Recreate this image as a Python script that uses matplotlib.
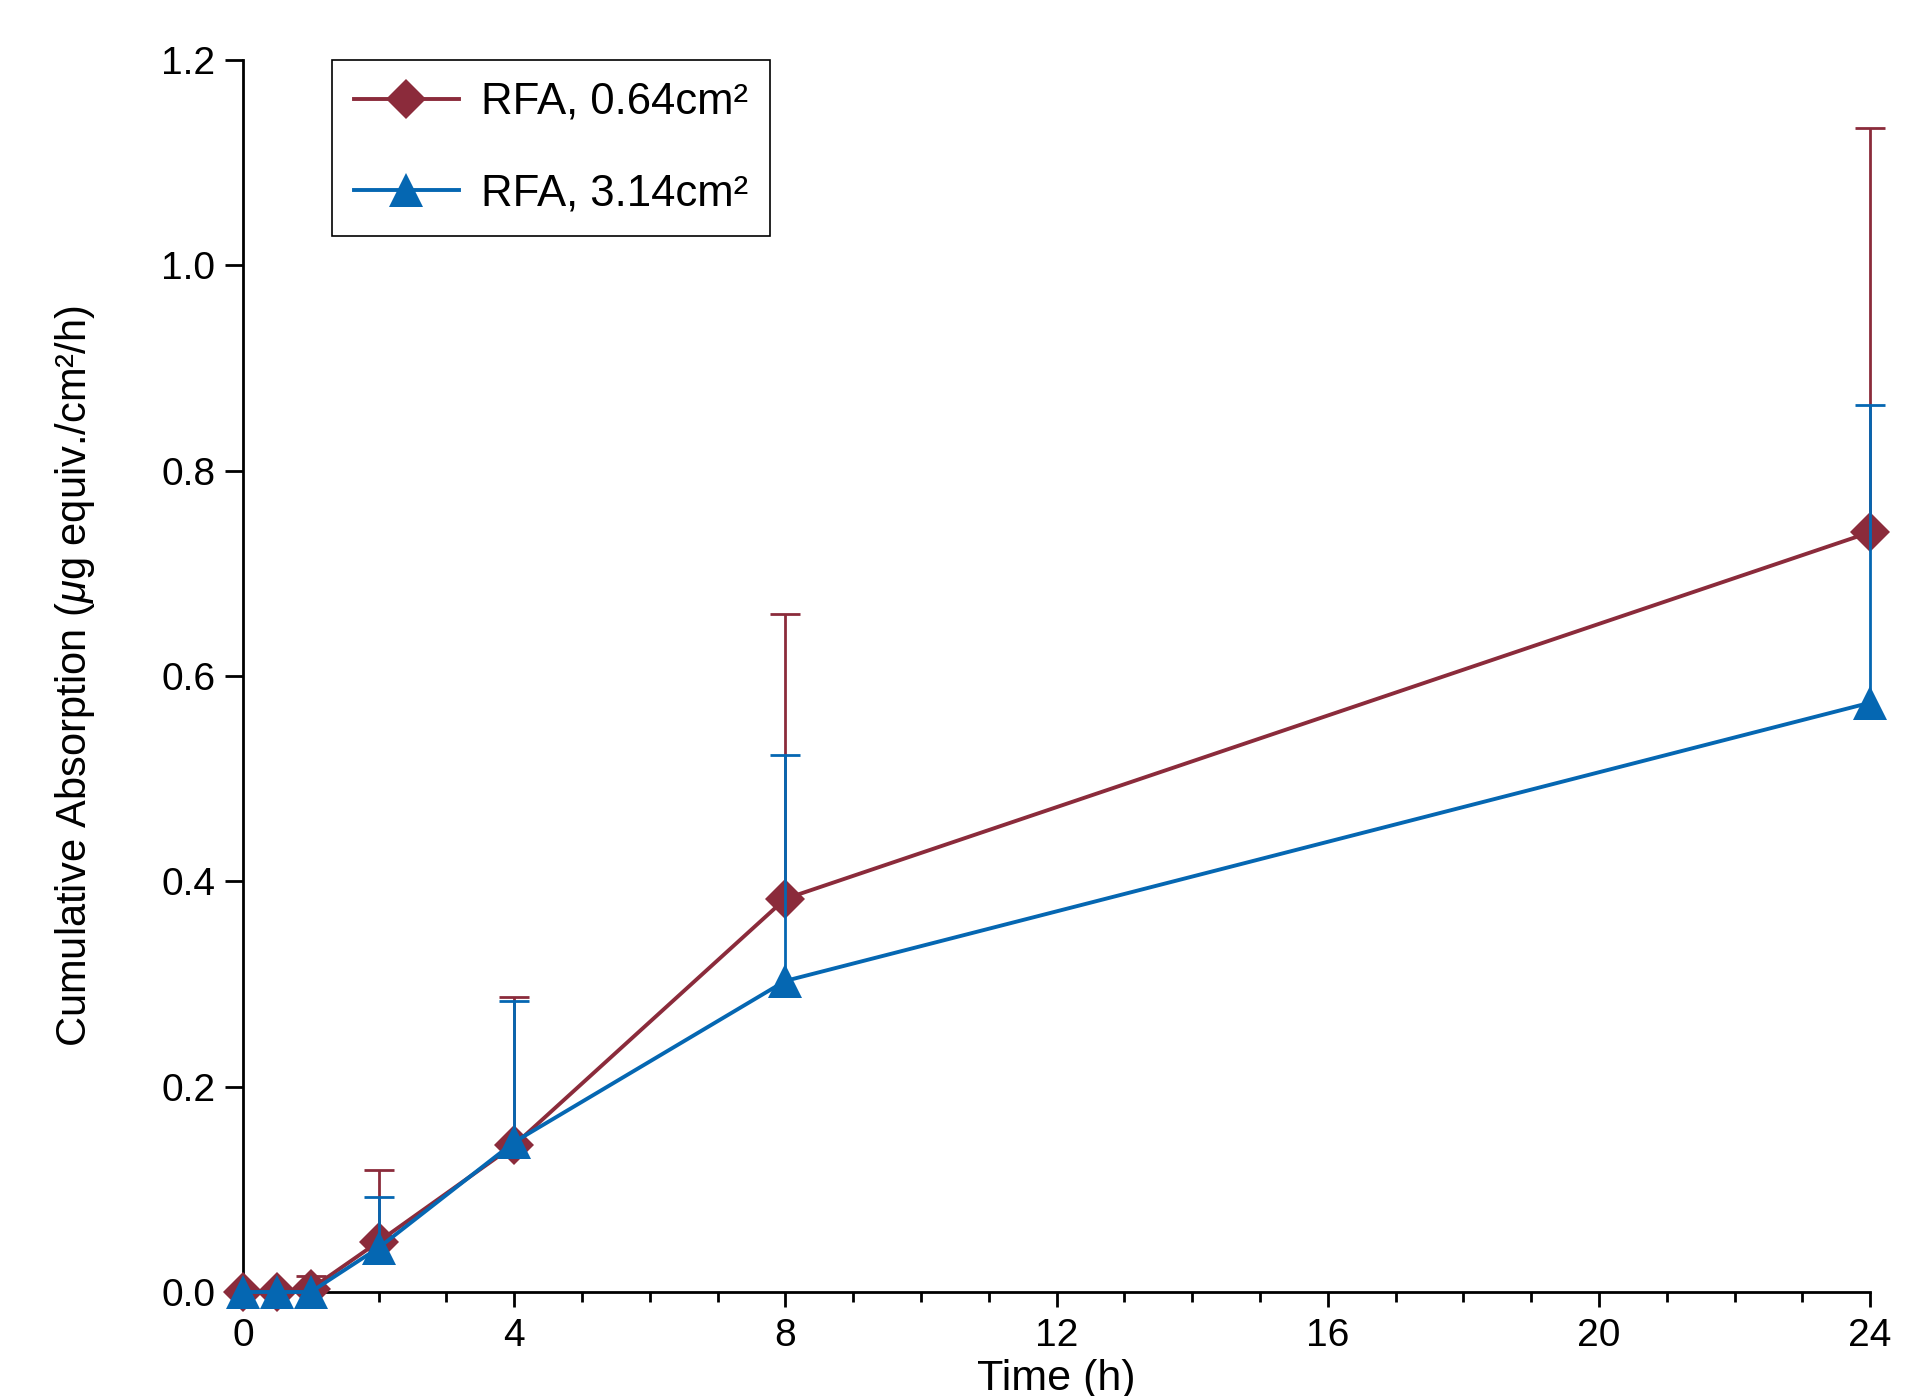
import matplotlib
matplotlib.use("Agg")
import matplotlib.pyplot as plt
import numpy as np

# sampling times (h)
time_h = [0, 0.5, 1, 2, 4, 8, 24]

# RFA, 0.64 cm2
small_mean = [0.0, 0.0, 0.003, 0.049, 0.143, 0.383, 0.740]
small_upper = [0.0, 0.0, 0.016, 0.119, 0.287, 0.660, 1.134]

# RFA, 3.14 cm2
large_mean = [0.0, 0.0, 0.0, 0.043, 0.146, 0.303, 0.574]
large_upper = [0.0, 0.0, 0.0, 0.093, 0.283, 0.523, 0.864]

series_labels = ["RFA, 0.64cm\u00b2", "RFA, 3.14cm\u00b2"]
x_ticks = [0, 4, 8, 12, 16, 20, 24]
y_ticks = [0.0, 0.2, 0.4, 0.6, 0.8, 1.0, 1.2]

red = "#8B2B3B"
blue = "#0567B2"

plt.rcParams["font.family"] = ["Liberation Sans", "DejaVu Sans"]
plt.rcParams["mathtext.fontset"] = "custom"
plt.rcParams["mathtext.it"] = "Liberation Sans:italic"


def draw_series(ax, x, mean, upper, color, marker, ms, label, z):
    x = np.array(x)
    mean = np.array(mean)
    upper = np.array(upper)
    err = upper - mean
    has_err = err > 0
    # bars first, then line + markers on top
    ax.errorbar(x, mean, yerr=[np.zeros_like(err), err], fmt="none",
                ecolor=color, elinewidth=2, capsize=0, zorder=z,
                clip_on=False)
    ax.plot(x[has_err], upper[has_err], ls="none", marker="_", ms=21,
            mew=2, color=color, zorder=z, clip_on=False)
    ax.plot(x, mean, color=color, lw=2.8, marker=marker, ms=ms, mew=0,
            label=label, zorder=z, clip_on=False)


fig = plt.figure(figsize=(19.22, 13.96), dpi=100)
ax = fig.add_axes([0.1264, 0.0745, 0.8466, 0.8825])

draw_series(ax, time_h, small_mean, small_upper, red, "D", 20,
            series_labels[0], 3)
draw_series(ax, time_h, large_mean, large_upper, blue, "^", 25,
            series_labels[1], 4)

ax.set_xlim(0, 24)
ax.set_ylim(0, 1.2)
ax.set_xticks(x_ticks)
ax.set_xticks(range(0, 25), minor=True)
ax.set_yticks(y_ticks)
ax.set_yticklabels(["%.1f" % v for v in y_ticks])

for side in ["top", "right"]:
    ax.spines[side].set_visible(False)
for side in ["left", "bottom"]:
    ax.spines[side].set_linewidth(2)

ax.tick_params(axis="both", which="major", labelsize=28, width=2,
               length=11, pad=8, colors="black")
ax.tick_params(axis="y", which="major", length=13, pad=7)
ax.tick_params(axis="x", which="minor", length=7, width=2)
ax.tick_params(axis="y", which="minor", left=False)

ax.set_xlabel("Time (h)", fontsize=31, labelpad=3)
ax.set_ylabel("Cumulative Absorption ($\\mu$g equiv./cm\u00b2/h)",
              fontsize=30, labelpad=46)

leg = ax.legend(loc="upper left", bbox_to_anchor=(0.0547, 1.0),
                borderaxespad=0, fontsize=31.5, fancybox=False,
                edgecolor="black", framealpha=1, handlelength=2.4,
                handletextpad=0.5, labelspacing=1.15, borderpad=0.5)
leg.get_frame().set_linewidth(1.2)

fig.savefig("out.png", dpi=100)
